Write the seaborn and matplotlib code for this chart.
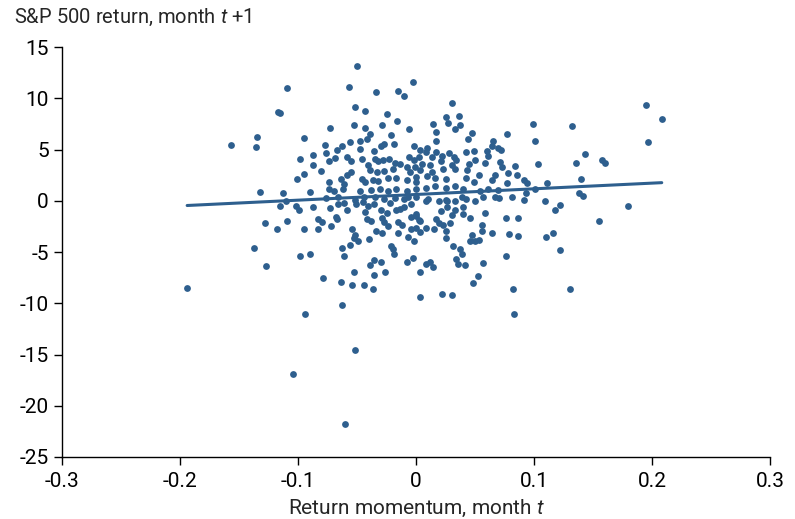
import numpy as np
import pandas as pd
import matplotlib
matplotlib.use("Agg")
import matplotlib.pyplot as plt
import seaborn as sns

# return momentum in month t (x) and S&P 500 return in month t+1 (y)
momentum = [
    -0.109, -0.117, -0.115, -0.157, -0.135, -0.136, -0.098, -0.101, -0.132, -0.113,
    -0.110, -0.115, -0.102, -0.099, -0.128, -0.118, -0.109, -0.137, -0.098, -0.127,
    -0.194,
    -0.034, -0.015, -0.010, -0.052, -0.043, -0.025, -0.016, -0.053, -0.043, -0.029,
    -0.073, -0.006, -0.039, -0.021, -0.095, -0.042, -0.048, -0.077, -0.063, -0.056,
    -0.030, -0.027, -0.019, -0.002, -0.067, -0.048, -0.076, -0.036, 0.003, -0.087,
    -0.069, -0.059, -0.074, -0.055, -0.046, -0.035, -0.032, -0.028, -0.023, -0.018,
    -0.014, -0.006, -0.002, 0.002, -0.087, -0.081, -0.041, -0.039, -0.033, -0.027,
    -0.020, -0.008, -0.005, 0.003, -0.055, -0.095, -0.074, -0.064, -0.059, -0.061,
    -0.046, -0.043, -0.037, -0.032, -0.024, -0.017, -0.008, 0.000, -0.074, -0.070,
    -0.062, -0.048, -0.038, -0.031, -0.024, -0.017, -0.008, 0.000, -0.090, -0.076,
    -0.066, -0.044, -0.035, -0.027, -0.018, -0.010, -0.061, -0.045, -0.036, -0.022,
    -0.004,
    -0.087, -0.073, -0.059, -0.052, -0.051, -0.066, -0.041, -0.043, -0.030, -0.025,
    -0.017, -0.014, -0.010, -0.007, -0.004, 0.000, 0.003, 0.000, -0.004, 0.003,
    -0.083, -0.080, -0.068, -0.067, -0.042, -0.038, -0.029, -0.027, -0.024, -0.015,
    -0.012, -0.095, -0.083, -0.072, -0.054, -0.034, -0.029, -0.015, -0.007, -0.052,
    -0.053, -0.049, -0.040, -0.056, -0.063, -0.021, -0.020, -0.019, -0.061, -0.090,
    -0.036, -0.039, -0.030, -0.008, -0.003, 0.003, -0.053, -0.036, -0.026, -0.079,
    -0.064, -0.054, -0.044, -0.037, 0.003, -0.063,
    0.030, 0.025, 0.036, 0.027, 0.037, 0.033, 0.014, 0.017, 0.047, 0.077,
    0.099, 0.101, 0.017, 0.044, 0.065, 0.064, 0.069, 0.072, 0.009, 0.008,
    0.017, 0.022, 0.028, 0.032, 0.042, 0.049, 0.060, 0.061, 0.050, 0.013,
    0.005, -0.001, 0.012, 0.021, 0.034, 0.030, 0.045, 0.058, 0.071, 0.073,
    0.084, 0.103, 0.023, 0.033, 0.013, 0.043, 0.053, 0.067, 0.078, 0.085,
    0.009, 0.016, 0.025, 0.042, 0.049, 0.064, 0.077, 0.091, 0.094, 0.101,
    0.008, 0.016, 0.025, 0.033, 0.040, 0.054, 0.061, 0.069, 0.010, 0.025,
    0.039, 0.057, 0.081, 0.093, 0.070, 0.091, 0.000, 0.000,
    0.008, 0.019, 0.026, 0.033, 0.042, 0.050, 0.067, 0.000, 0.002, -0.002,
    0.008, 0.021, 0.026, 0.033, 0.040, 0.030, 0.040, 0.046, 0.058, 0.017,
    0.019, 0.023, 0.029, 0.015, 0.025, 0.056, 0.056, 0.064, 0.076, 0.086,
    0.079, 0.086, 0.047, 0.046, 0.050, 0.053, 0.025, 0.031, 0.037, 0.039,
    0.008, 0.012, 0.014, 0.034, 0.035, 0.041, 0.057, 0.076, 0.052, 0.048,
    0.082, 0.022, 0.030,
    0.132, 0.195, 0.208, 0.196, 0.143, 0.135, 0.157, 0.160, 0.111, 0.140,
    0.138, 0.141, 0.109, 0.122, 0.118, 0.179, 0.155, 0.116, 0.110, 0.122,
    0.130,
    -0.094, 0.083, -0.052, -0.104, -0.060, -0.050, -0.057, -0.003,
]
sp500_next = [
    11.0, 8.7, 8.6, 5.5, 6.2, 5.3, 4.1, 2.1, 0.9, 0.8,
    0.0, -0.5, -0.5, -0.9, -2.2, -2.7, -2.0, -4.6, -5.4, -6.4,
    -8.5,
    10.6, 10.7, 10.2, 9.2, 8.8, 8.5, 7.8, 7.4, 7.1, 7.4,
    7.1, 7.0, 6.5, 6.4, 6.1, 6.0, 5.8, 5.5, 5.4, 5.7,
    5.4, 5.6, 5.6, 5.4, 5.0, 5.1, 4.7, 4.9, 5.0, 4.5,
    4.2, 4.3, 3.9, 3.9, 4.1, 4.1, 3.9, 4.0, 4.1, 3.7,
    3.6, 4.3, 4.0, 4.3, 3.5, 2.9, 3.5, 3.0, 2.8, 2.9,
    3.1, 3.3, 2.8, 3.0, 2.8, 2.6, 1.8, 2.1, 2.5, 1.6,
    2.1, 1.8, 2.0, 1.9, 2.2, 2.2, 2.0, 1.8, 1.2, 1.0,
    1.2, 1.0, 1.1, 1.2, 1.0, 1.2, 1.0, 1.2, 0.9, 0.3,
    0.4, 0.4, 0.4, 0.2, 0.3, 0.2, -0.2, -0.1, -0.3, -0.2,
    -0.3,
    -0.6, -0.7, -0.9, 0.1, -0.3, -0.3, -0.5, -1.1, -0.9, -1.2,
    -0.9, -0.8, -0.6, 0.4, -1.6, -1.5, -2.0, -2.6, -2.7, -3.0,
    -1.8, -2.1, -1.6, -1.8, -1.8, -2.0, -1.7, -2.1, -2.5, -2.1,
    -2.4, -2.7, -2.7, -2.5, -2.7, -2.9, -3.1, -3.1, -3.5, -3.3,
    -3.6, -3.9, -3.7, -4.3, -4.6, -4.4, -4.7, -5.2, -5.4, -5.2,
    -5.8, -6.3, -6.0, -6.0, -5.6, -6.9, -6.9, -7.2, -6.9, -7.5,
    -7.9, -8.2, -8.2, -8.6, -9.4, -10.2,
    9.6, 8.2, 8.3, 7.6, 7.4, 7.0, 7.5, 6.7, 6.6, 6.5,
    7.5, 5.8, 5.8, 6.0, 5.8, 5.4, 5.2, 5.0, 5.2, 4.8,
    4.8, 4.4, 4.7, 4.3, 4.8, 4.9, 4.9, 4.4, 4.0, 4.3,
    3.6, 3.3, 3.5, 3.9, 4.0, 3.5, 3.6, 3.7, 3.8, 3.3,
    3.4, 3.6, 3.1, 3.1, 2.8, 3.0, 2.5, 2.5, 2.7, 2.5,
    2.4, 2.2, 2.1, 2.2, 1.8, 2.0, 1.7, 2.0, 1.7, 1.2,
    1.3, 1.5, 1.3, 1.5, 1.2, 1.0, 1.2, 1.1, 0.2, 0.1,
    0.4, 0.4, 0.4, 0.8, 0.3, 0.1, 0.4, 2.3,
    0.0, 0.0, 0.0, 0.0, 0.2, 0.0, 0.4, -1.25, -1.9, -3.9,
    -2.6, -1.0, -0.6, -0.9, -0.6, -1.4, -1.25, -1.7, -1.15, -1.8,
    -2.2, -2.4, -2.2, -2.7, -2.9, -2.4, -2.9, -3.1, -1.7, -1.7,
    -3.2, -3.4, -3.3, -3.9, -3.9, -3.8, -3.6, -4.4, -4.7, -5.2,
    -6.2, -6.0, -6.5, -5.7, -6.2, -6.3, -6.1, -5.4, -7.3, -8.0,
    -8.6, -9.1, -9.2,
    7.3, 9.4, 8.0, 5.7, 4.6, 3.7, 4.0, 3.7, 1.7, 2.1,
    0.8, 0.5, 0.0, -0.4, -0.9, -0.5, -2.0, -3.1, -3.5, -4.8,
    -8.6,
    -11.0, -11.0, -14.6, -16.9, -21.8, 13.2, 11.1, 11.6,
]

x_ticks = [-0.3, -0.2, -0.1, 0, 0.1, 0.2, 0.3]
x_tick_labels = ["-0.3", "-0.2", "-0.1", "0", "0.1", "0.2", "0.3"]
y_ticks = [15, 10, 5, 0, -5, -10, -15, -20, -25]

df = pd.DataFrame({"momentum": momentum, "sp500_next": sp500_next})

sns.set_style("ticks")
plt.rcParams["font.family"] = ["Roboto", "DejaVu Sans"]
plt.rcParams["axes.unicode_minus"] = False
plt.rcParams["mathtext.fontset"] = "custom"
plt.rcParams["mathtext.it"] = "Roboto:italic"
plt.rcParams["mathtext.rm"] = "Roboto"

blue = "#2e5f8e"

fig = plt.figure(figsize=(7.95, 5.19), dpi=100)
ax = fig.add_axes([0.078, 0.1195, 0.891, 0.7895])

sns.regplot(data=df, x="momentum", y="sp500_next", ax=ax, ci=None, truncate=True,
            color=blue,
            scatter_kws={"s": 24, "alpha": 1, "linewidths": 0},
            line_kws={"lw": 2.2, "color": blue})

ax.set_xlim(-0.3, 0.3)
ax.set_ylim(-25, 15)
ax.set_xticks(x_ticks)
ax.set_xticklabels(x_tick_labels)
ax.set_yticks(y_ticks)
ax.tick_params(axis="y", labelsize=15, colors="black", length=6, width=1)
ax.tick_params(axis="x", labelsize=15, colors="black", length=6, width=1, pad=5)
ax.set_xlabel("Return momentum, month $t$", fontsize=15, labelpad=5)
ax.set_ylabel("")
for side in ["top", "right"]:
    ax.spines[side].set_visible(False)
for side in ["left", "bottom"]:
    ax.spines[side].set_color("black")
    ax.spines[side].set_linewidth(1)

fig.text(14 / 795, 1 - 17 / 519, "S&P 500 return, month $t$ +1", fontsize=14.5,
         ha="left", va="center")

fig.savefig("out.png", dpi=100)
